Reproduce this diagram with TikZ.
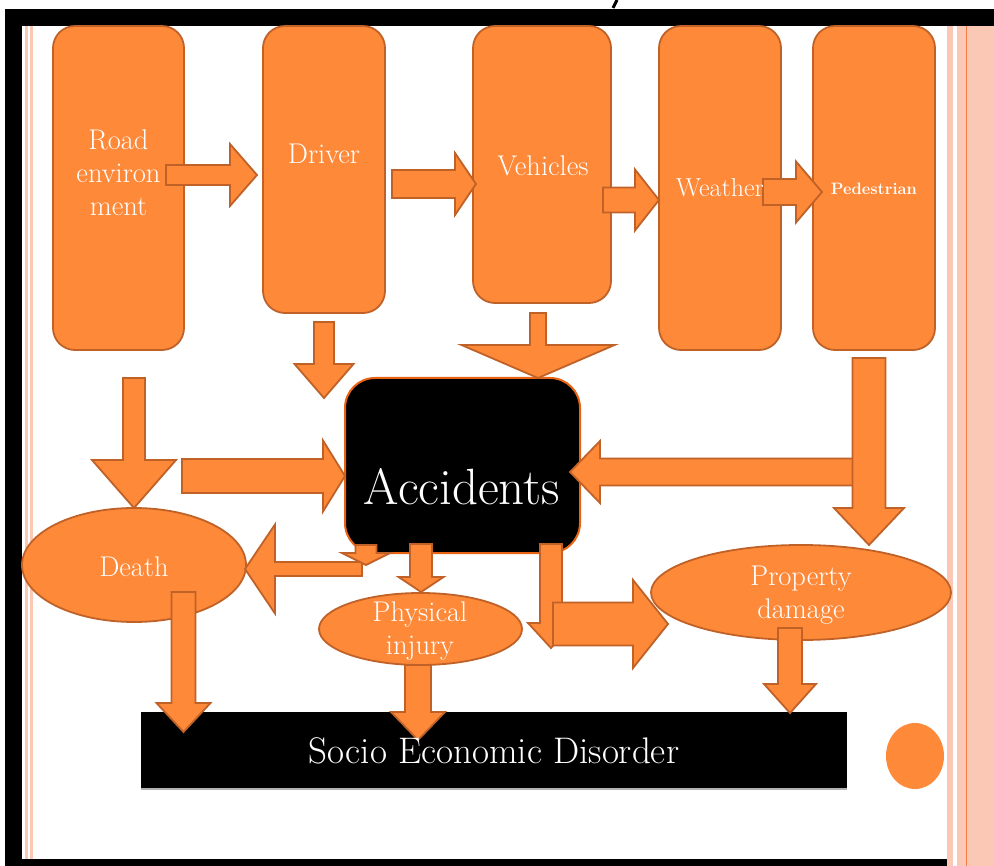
\documentclass[tikz,border=0pt]{standalone}
\usepackage{fontspec}
\usetikzlibrary{shapes.geometric}
\definecolor{ofill}{RGB}{253,137,57}
\definecolor{oline}{RGB}{192,98,40}
\definecolor{accline}{RGB}{232,100,20}
\definecolor{stripe}{RGB}{252,200,182}
\definecolor{stripedark}{RGB}{245,125,65}
\newcommand\harrow[6]{\draw[blockarrow] (#1,#4-#5) -- (#2,#4-#5) -- (#2,#4-#6) -- (#3,#4) -- (#2,#4+#6) -- (#2,#4+#5) -- (#1,#4+#5) -- cycle;}
\newcommand\varrow[6]{\draw[blockarrow] (#1-#5,#2) -- (#1-#5,#3) -- (#1-#6,#3) -- (#1,#4) -- (#1+#6,#3) -- (#1+#5,#3) -- (#1+#5,#2) -- cycle;}
\begin{document}
\begin{tikzpicture}[x=1pt,y=-1pt,
 box/.style={draw=oline, fill=ofill, line width=1.8pt, rounded corners=22pt, inner sep=0pt},
 oval/.style={ellipse, draw=oline, fill=ofill, line width=1.8pt, inner sep=0pt},
 blockarrow/.style={draw=oline, fill=ofill, line width=1.8pt, line join=miter},
 lbl/.style={text=white, align=center, inner sep=0pt, font=\fontsize{28.5}{33}\selectfont}]
% background and frame
\fill[white] (0,0) rectangle (994,866);
\useasboundingbox (0,0) rectangle (994,866);
\fill[stripe] (947,26) rectangle (953,866);
\fill[stripe] (957,26) rectangle (994,866);
\draw[stripedark, line width=1.5pt] (966.5,26) -- (966.5,866);
\fill[stripe] (25,26) rectangle (28,859);
\fill[stripe] (30,26) rectangle (33,859);
\fill[black] (5,9) rectangle (994,26);
\fill[black] (5,9) rectangle (22,866);
\fill[black] (5,859) rectangle (947,866);
\draw[line width=3pt] (617,0) -- (613,8);
% top boxes
\node[box, minimum width=131pt, minimum height=324pt] (road) at (118.5,188) {};
\node[box, minimum width=122pt, minimum height=287pt] (driver) at (324,169.5) {};
\node[box, minimum width=138pt, minimum height=277pt] (vehicles) at (542,164.5) {};
\node[box, minimum width=122pt, minimum height=324pt] (weather) at (720,188) {};
\node[box, minimum width=122pt, minimum height=324pt] (ped) at (874,188) {};
% accidents and socio
\node[draw=accline, fill=black, line width=2pt, rounded corners=30pt, minimum width=235pt, minimum height=175pt, inner sep=0pt] (acc) at (462.5,465.5) {};
\draw[gray!60, line width=1.5pt] (141,789) -- (847,789);
\node[fill=black, minimum width=706pt, minimum height=76pt, inner sep=0pt] (soc) at (494,750) {};
% ellipses
\node[oval, minimum width=224pt, minimum height=114pt] (death) at (134,565) {};
\node[oval, minimum width=203pt, minimum height=72pt] (phys) at (420.5,629) {};
\node[oval, minimum width=300pt, minimum height=95pt] (prop) at (801,592.5) {};
\node[ellipse, fill=ofill, minimum width=58pt, minimum height=66pt, inner sep=0pt] (dot) at (915,756) {};
% arrows
\harrow{166}{230}{257}{175}{10}{31}
\harrow{392}{455}{476}{184}{14}{31}
\harrow{603}{635}{659}{200}{12.5}{30.5}
\harrow{763}{796}{822}{192}{13}{30.5}
\varrow{324}{322}{364}{398}{10}{29.5}
\varrow{538}{313}{345}{378}{8}{76.5}
\varrow{134}{378}{460}{508}{11}{42}
\harrow{182}{323}{345}{476}{17}{35.5}
\harrow{855}{600}{570}{472}{13.5}{31}
\varrow{869}{358}{508}{545}{16.5}{35}
\harrow{362}{275}{245}{569}{7}{44.5}
\varrow{366}{545}{553}{565}{10.5}{24}
\varrow{421}{544}{577}{592}{11}{22.5}
\varrow{551}{544}{623}{648}{11}{23}
\harrow{553}{633}{668}{624}{21.5}{44}
\varrow{183.5}{592}{703}{732}{12}{27}
\varrow{418}{665}{712}{740}{13}{27}
\varrow{790}{628}{684}{713}{12}{26}
% labels
\node[lbl] (troad) at (118.5,173) {Road\\environ\\ment};
\node[lbl] (tdriver) at (324,154) {Driver};
\node[lbl] (tveh) at (543,166) {Vehicles};
\node[lbl, font=\fontsize{26}{30}\selectfont] (twea) at (720,188) {Weather};
\node[lbl, font=\bfseries\fontsize{16.5}{18}\selectfont] (tped) at (874,189) {Pedestrian};
\node[lbl, font=\fontsize{51}{58}\selectfont] (tacc) at (462,487) {Accidents};
\node[lbl] (tdeath) at (134,567) {Death};
\node[lbl] (tphys) at (420,631) {Physical\\injury};
\node[lbl] (tprop) at (801,595) {Property\\damage};
\node[lbl, font=\fontsize{37}{42}\selectfont] (tsoc) at (494,751) {Socio Economic Disorder};
\end{tikzpicture}
\end{document}
